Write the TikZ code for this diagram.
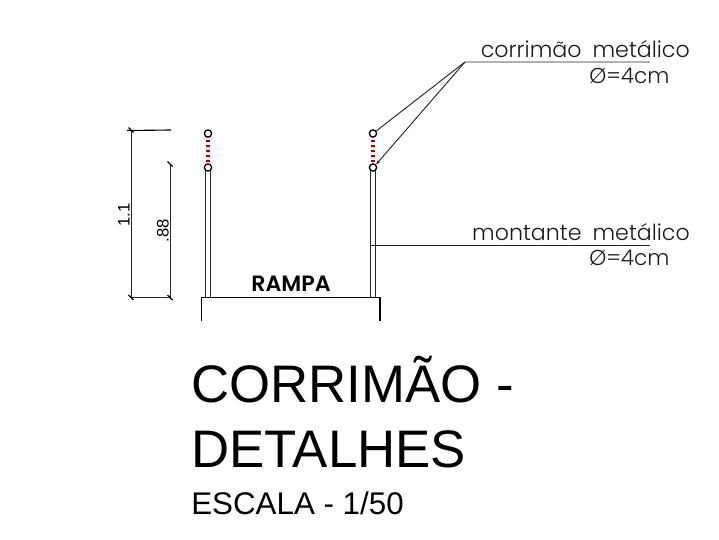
\documentclass[tikz,border=0pt]{standalone}
\usetikzlibrary{arrows.meta}
\usepackage{fontspec}
\setmainfont{Liberation Sans}
\newfontfamily\cadfont[UprightFont={* Light},BoldFont={* SemiBold}]{Poppins}
\tikzset{
  px/.style={x=0.75pt,y=-0.75pt},
  thinline/.style={draw=black!85,line width=0.7pt},
  postline/.style={draw=black!85,line width=0.85pt},
  baseline/.style={draw=black,line width=1.3pt},
  halo/.style={draw=red!7,line width=3.6pt},
  hatch/.style={draw=red!65!black,line width=3pt,dash pattern=on 1.3pt off 2.45pt},
  ringmark/.style={circle,draw=black,line width=1pt,fill=white,inner sep=0pt,minimum size=5.4pt},
  cad/.style={inner sep=0pt,font=\cadfont\fontsize{16.6}{18}\selectfont,text=black!90},
  cadnote/.style={inner sep=0pt,font=\cadfont\fontsize{16.2}{18}\selectfont,text=black!90},
  dimtext/.style={inner sep=0pt,font=\fontsize{12.5}{14}\selectfont,rotate=90},
  titletext/.style={inner sep=0pt,anchor=base west,font=\fontsize{39.6}{44}\selectfont},
  subtext/.style={inner sep=0pt,anchor=base west,font=\fontsize{23.5}{26}\selectfont}
}
\begin{document}
\begin{tikzpicture}[px]
\useasboundingbox (0,0) rectangle (719,540);
% dimensions
\coordinate (d1t) at (131,130);
\coordinate (d1b) at (131,297.5);
\coordinate (d2t) at (170,164);
\coordinate (d2b) at (170,297.5);
\coordinate (d1e) at (171,130);
\draw[draw=black,line width=0.85pt] (127,130.5) -- (d1e);
\draw[thinline] (d1t) -- (d1b) -- (d2b) -- (d2t);
\foreach \p in {d1t,d1b,d2t,d2b}{
  \draw[draw=black,line width=0.9pt] ([shift={(-2.5,-2.5)}]\p) -- ([shift={(2.5,2.5)}]\p);
}
\node[dimtext] (dimA) at (124,215) {1.1};
\node[dimtext] (dimB) at (163,231) {.88};
% left post
\draw[postline] (205.5,170) -- (205.5,297);
\draw[postline] (210.5,170) -- (210.5,297);
\draw[halo] (208,136) -- (208,165);
\draw[hatch] (208,140) -- (208,164);
\node[ringmark] (la) at (208,133.5) {};
\node[ringmark] (lb) at (208,167.5) {};
% right post
\draw[postline] (370.5,170) -- (370.5,297);
\draw[postline] (375.5,170) -- (375.5,297);
\draw[halo] (373,136) -- (373,165);
\draw[hatch] (373,140) -- (373,164);
\node[ringmark] (ra) at (373,133.5) {};
\node[ringmark] (rb) at (373,167.5) {};
% ramp
\draw[baseline] (201.5,320.5) -- (201.5,297.5) -- (380,297.5) -- (380,320.5);
\node[inner sep=0pt,font=\cadfont\fontsize{16.6}{18}\selectfont\bfseries] (ramp) at (291,284) {RAMPA};
% leaders
\coordinate (elbow) at (465,62);
\coordinate (lend) at (650,62);
\draw[thinline] (lend) -- (elbow) -- (ra);
\draw[thinline,-{Stealth[length=3.5pt,width=2.5pt]}] (elbow) -- (rb.north east);
\coordinate (mstart) at (370.5,245);
\coordinate (mend) at (650,245);
\draw[thinline] (mstart) -- (mend);
% labels
\node[cad,anchor=base east] (c1) at (690,57) {corrimão\hspace{0.5em}metálico};
\node[cadnote,anchor=base west] (c2) at (589,83) {Ø=4cm};
\node[cad,anchor=base east] (m1) at (690,240) {montante\hspace{0.5em}metálico};
\node[cadnote,anchor=base west] (m2) at (589,265) {Ø=4cm};
% titles
\node[titletext] (t1) at (191,402) {CORRIMÃO -};
\node[titletext] (t2) at (191,467) {DETALHES};
\node[subtext] (t3) at (191,514) {ESCALA - 1/50};
\end{tikzpicture}
\end{document}
